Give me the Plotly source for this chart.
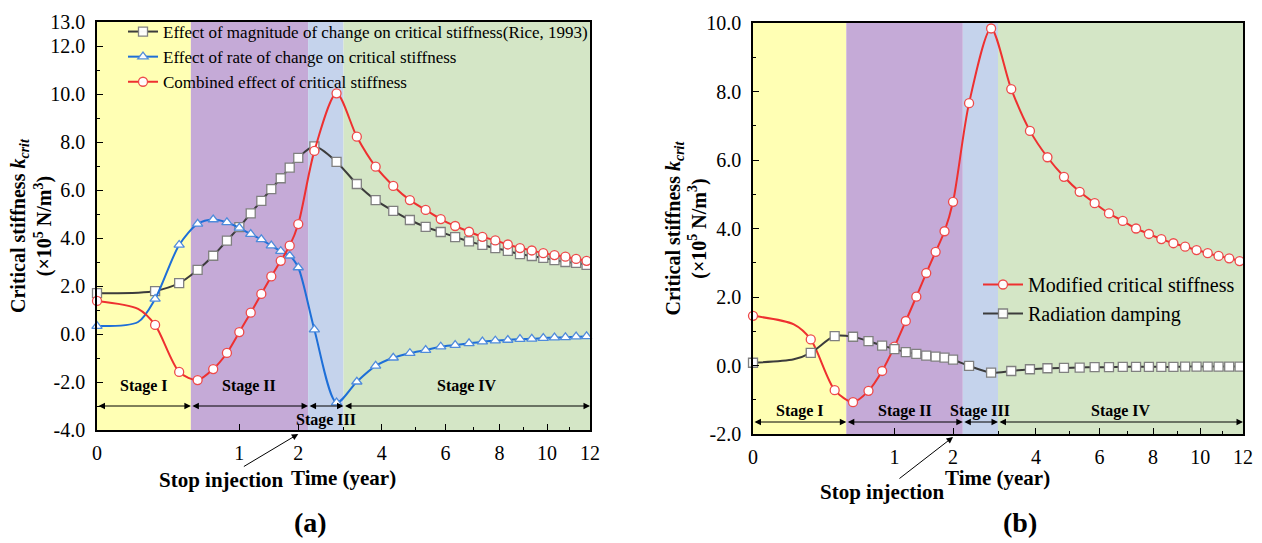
import numpy as np
import plotly.graph_objects as go

W, H = 1262, 543
SERIF = "Liberation Serif, Times New Roman, serif"

# ---------------------------------------------------------------- data
# sampling times of the curves, in months; month 1 is a curve-only sample
months = [0, 1, 2, 4, 6, 8, 10, 12, 14, 16, 18, 20, 22, 24, 28,
          34, 40, 46, 52, 58, 64, 70, 76, 82, 88, 94, 100, 106, 112, 118,
          124, 130, 136, 142]
marked = [m != 1 for m in months]          # symbols are drawn on these samples

# (a) critical stiffness components (x10^5 N/m^3)
rice_a = [1.70, 1.72, 1.79, 2.12, 2.67, 3.26, 3.89, 4.45, 5.03, 5.55, 6.04, 6.49, 6.93,
          7.34, 7.82, 7.17, 6.25, 5.58, 5.13, 4.75, 4.46, 4.25, 4.04, 3.86, 3.71, 3.58,
          3.46, 3.33, 3.25, 3.17, 3.08, 3.00, 2.96, 2.88]
rate_a = [0.33, 0.50, 1.46, 3.71, 4.59, 4.77, 4.65, 4.42, 4.16, 3.94, 3.68, 3.45, 3.26,
          2.77, 0.18, -2.86, -1.99, -1.33, -0.99, -0.80, -0.67, -0.53, -0.46, -0.39,
          -0.32, -0.28, -0.25, -0.21, -0.20, -0.17, -0.15, -0.14, -0.11, -0.10]
combined_a = [1.38, 1.05, 0.38, -1.58, -1.92, -1.46, -0.79, 0.08, 0.89, 1.67, 2.40, 3.05,
              3.68, 4.58, 7.63, 10.03, 8.22, 6.97, 6.17, 5.58, 5.17, 4.79, 4.50, 4.26,
              4.05, 3.90, 3.73, 3.58, 3.48, 3.37, 3.29, 3.22, 3.13, 3.05]

# (b) modified critical stiffness and radiation damping term
modified_b = [1.45, 1.20, 0.76, -0.72, -1.07, -0.74, -0.16, 0.55, 1.30, 2.01, 2.70, 3.32,
              3.92, 4.78, 7.66, 9.84, 8.07, 6.85, 6.08, 5.51, 5.07, 4.74, 4.44, 4.22,
              4.00, 3.84, 3.69, 3.57, 3.47, 3.37, 3.28, 3.20, 3.13, 3.05]
damping_b = [0.08, 0.18, 0.37, 0.86, 0.84, 0.71, 0.58, 0.48, 0.39, 0.34, 0.29, 0.26, 0.23,
             0.17, -0.01, -0.21, -0.16, -0.11, -0.08, -0.07, -0.06, -0.05, -0.05, -0.04,
             -0.04, -0.04, -0.04, -0.04, -0.03, -0.03, -0.03, -0.03, -0.03, -0.03]

# stage limits (years) and shading
stage_edges = [0, 0.435, 2.2, 3.0, 12]
stage_names = ["Stage I", "Stage II", "Stage III", "Stage IV"]
stage_colors = ["#FFFFB4", "#C5AAD7", "#C5D3EC", "#D4E6C6"]
stop_injection = 2.0

x_ticks = [0, 1, 2, 4, 6, 8, 10, 12]
x_minor = [3, 5, 7, 9, 11]
ya_ticks = [-4, -2, 0, 2, 4, 6, 8, 10, 12, 13]
ya_minor = [-3, -1, 1, 3, 5, 7, 9, 11]
yb_ticks = [-2, 0, 2, 4, 6, 8, 10]
yb_minor = [-1, 1, 3, 5, 7, 9]

# ---------------------------------------------------------------- helpers
def tx(t):
    """time axis uses a square-root scale"""
    return np.sqrt(np.asarray(t, dtype=float))

years = np.array(months) / 12.0
X = tx(years)
X_MAX = float(tx(12))

def px(x):
    return x / W

def py(y):
    return 1 - y / H

GRAY_LINE, GRAY_MK = "#3c3c3c", "#808080"
BLUE_LINE, BLUE_MK = "#1E6FD8", "#4F8BDB"
RED_LINE, RED_MK = "#EE3030", "#EE4A4A"

MK_OPACITY = [1 if k else 0 for k in marked]

fig = go.Figure()

def add_series(x, y, name, lc, mc, symbol, xa, ya, legend):
    fig.add_trace(go.Scatter(
        x=x, y=y, name=name, xaxis=xa, yaxis=ya, legend=legend,
        mode="lines+markers",
        line=dict(color=lc, width=2, shape="spline", smoothing=0.8),
        marker=dict(symbol=symbol, size=9, color="white", opacity=MK_OPACITY,
                    line=dict(color=mc, width=1.3)),
        cliponaxis=False,
    ))

add_series(X, rice_a, "Effect of magnitude of change on critical stiffness(Rice, 1993)",
           GRAY_LINE, GRAY_MK, "square", "x", "y", "legend")
add_series(X, rate_a, "Effect of rate of change on critical stiffness",
           BLUE_LINE, BLUE_MK, "triangle-up", "x", "y", "legend")
add_series(X, combined_a, "Combined effect of critical stiffness",
           RED_LINE, RED_MK, "circle", "x", "y", "legend")
add_series(X, modified_b, "Modified critical stiffness",
           RED_LINE, RED_MK, "circle", "x2", "y2", "legend2")
add_series(X, damping_b, "Radiation damping",
           GRAY_LINE, GRAY_MK, "square", "x2", "y2", "legend2")

# ---------------------------------------------------------------- axes
tick_font = dict(family=SERIF, size=20, color="black")

def xaxis(domain, anchor):
    return dict(
        domain=domain, range=[0, X_MAX], anchor=anchor, automargin=False,
        tickvals=list(tx(x_ticks)), ticktext=[str(v) for v in x_ticks],
        minor=dict(tickvals=list(tx(x_minor)), ticks="inside", ticklen=3,
                   tickcolor="black", tickwidth=1.2),
        ticks="inside", ticklen=6, tickwidth=1.2, tickcolor="black",
        showline=True, linecolor="black", linewidth=1.6, mirror=True,
        showgrid=False, zeroline=False, tickfont=tick_font,
        ticklabelstandoff=4,
    )

def yaxis(domain, rng, major, minor, anchor):
    return dict(
        domain=domain, range=rng, anchor=anchor, automargin=False,
        tickvals=major, ticktext=[f"{v:.1f}" for v in major],
        minor=dict(tickvals=minor, ticks="inside", ticklen=3,
                   tickcolor="black", tickwidth=1.2),
        ticks="inside", ticklen=6, tickwidth=1.2, tickcolor="black",
        showline=True, linecolor="black", linewidth=1.6, mirror=True,
        showgrid=False, zeroline=False, tickfont=tick_font,
        ticklabelstandoff=6,
    )

A_L, A_R, A_T, A_B = 97, 590, 22, 430
B_L, B_R, B_T, B_B = 753, 1243, 23, 434

fig.update_layout(
    xaxis=xaxis([px(A_L), px(A_R)], "y"),
    yaxis=yaxis([py(A_B), py(A_T)], [-4, 13], ya_ticks, ya_minor, "x"),
    xaxis2=xaxis([px(B_L), px(B_R)], "y2"),
    yaxis2=yaxis([py(B_B), py(B_T)], [-2, 10], yb_ticks, yb_minor, "x2"),
)

# ---------------------------------------------------------------- stage shading
shapes = []
for xa, ya in (("x", "y"), ("x2", "y2")):
    for i, col in enumerate(stage_colors):
        shapes.append(dict(
            type="rect", xref=xa, yref=f"{ya} domain",
            x0=float(tx(stage_edges[i])), x1=float(tx(stage_edges[i + 1])),
            y0=0, y1=1, fillcolor=col, line=dict(width=0), layer="below"))
fig.update_layout(shapes=shapes)

# ---------------------------------------------------------------- annotations
ann = []
stage_font = dict(family=SERIF, size=16, color="black")

def stage_marks(xa, ya, y_arrow, y_label, label_override=None):
    for i, name in enumerate(stage_names):
        x0, x1 = float(tx(stage_edges[i])), float(tx(stage_edges[i + 1]))
        ann.append(dict(
            xref=xa, yref=ya, axref=xa, ayref=ya,
            x=x1, y=y_arrow, ax=x0, ay=y_arrow, text="",
            showarrow=True, arrowside="end+start", arrowhead=2,
            arrowsize=1.3, arrowwidth=1, arrowcolor="black",
            standoff=0, startstandoff=0))
        yl = y_label
        if label_override and name in label_override:
            yl = label_override[name]
        ann.append(dict(
            xref=xa, yref=ya, x=(x0 + x1) / 2, y=yl, xanchor="center",
            yanchor="middle", text=f"<b>{name}</b>", showarrow=False,
            font=stage_font))

stage_marks("x", "y", -3.0, -2.17, {"Stage III": -3.58})
stage_marks("x2", "y2", -1.65, -1.33)

big_font = dict(family=SERIF, size=21, color="black")

# stop-injection pointers (head sits just under the time axis at t = 2 yr)
for left, right, bottom, dx, dy in ((A_L, A_R, A_B + 4, -77, 46),
                                    (B_L, B_R, B_B + 3, -71, 55)):
    hx = left + (right - left) * float(tx(stop_injection)) / X_MAX
    ann.append(dict(xref="paper", yref="paper", x=px(hx), y=py(bottom),
                    ax=dx, ay=dy, text="<b>Stop injection</b>", font=big_font,
                    showarrow=True, arrowhead=2, arrowsize=1.3, arrowwidth=1,
                    arrowcolor="black"))

# axis titles
for cx in ((A_L + A_R) / 2, (B_L + B_R) / 2):
    ann.append(dict(xref="paper", yref="paper", x=px(cx), y=py(478),
                    xanchor="center", yanchor="middle",
                    text="<b>Time (year)</b>", showarrow=False, font=big_font))

ytitle = ("<b>Critical stiffness <i>k</i><sub><i>crit</i></sub></b><br>"
          "<b>(×10<sup>5</sup> N/m<sup>3</sup>)</b>")
for cx, cy in ((31, (A_T + A_B) / 2), (686, (B_T + B_B) / 2)):
    ann.append(dict(xref="paper", yref="paper", x=px(cx), y=py(cy),
                    xanchor="center", yanchor="middle",
                    text=ytitle, textangle=-90, showarrow=False,
                    font=dict(family=SERIF, size=20, color="black")))

# panel letters
for cx, lab in ((310, "(a)"), (1020, "(b)")):
    ann.append(dict(xref="paper", yref="paper", x=px(cx), y=py(522),
                    xanchor="center", yanchor="middle",
                    text=f"<b>{lab}</b>", showarrow=False,
                    font=dict(family=SERIF, size=28, color="black")))

fig.update_layout(annotations=ann)

# ---------------------------------------------------------------- legends & page
fig.update_layout(
    width=W, height=H,
    margin=dict(l=0, r=0, t=0, b=0, autoexpand=False),
    paper_bgcolor="white", plot_bgcolor="white",
    font=dict(family=SERIF, color="black"),
    legend=dict(x=px(123), y=py(14), xanchor="left", yanchor="top",
                bgcolor="rgba(0,0,0,0)", font=dict(family=SERIF, size=17),
                tracegroupgap=0, itemwidth=30),
    legend2=dict(x=px(978), y=py(265), xanchor="left", yanchor="top",
                 bgcolor="rgba(0,0,0,0)", font=dict(family=SERIF, size=20),
                 tracegroupgap=0, itemwidth=40),
)

fig.write_html("out.html")
